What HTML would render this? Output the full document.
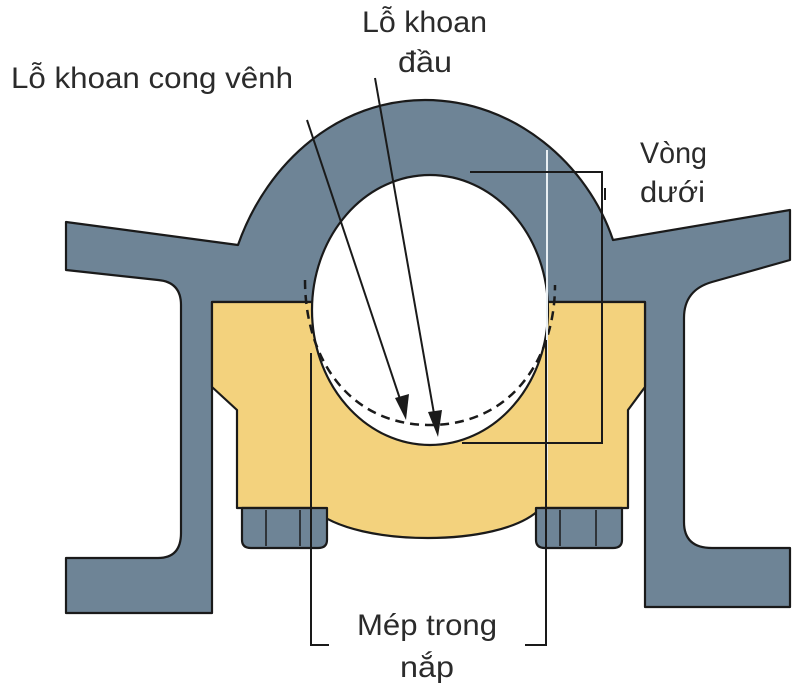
<!DOCTYPE html>
<html><head><meta charset="utf-8"><style>
html,body{margin:0;padding:0;background:#fff;width:800px;height:700px;overflow:hidden}
text{font-family:"Liberation Sans",sans-serif;fill:#2b2b2b}
</style></head><body>
<svg width="800" height="700" viewBox="0 0 800 700" xmlns="http://www.w3.org/2000/svg">
<g stroke="#1a1a1a" stroke-width="2.2" stroke-linejoin="round">
<path fill="#6e8496" d="M66,222 L238,245 C268,160 340,100 425,100 C515,100 588,165 613,240 L790,210 L790,260 L712,282 Q684,290 684,318 L684,522 Q684,548 712,548 L790,548 L790,607 L645,607 L645,302 L212,302 L212,613 L66,613 L66,558 L158,558 Q181,558 181,533 L181,305 Q181,282 158,280 L66,270 Z"/>
<path fill="#f3d27d" d="M212,302 L645,302 L645,387 L628,410 L628,508 L541,508 C520,530 470,538 428,538 C385,538 335,530 312,508 L237,508 L237,410 L212,387 Z"/>
<g fill="#6e8496">
<path d="M242,508 L327,508 L327,540 Q327,548 318,548 L251,548 Q242,548 242,540 Z"/>
<path d="M536,508 L622,508 L622,540 Q622,548 613,548 L545,548 Q536,548 536,540 Z"/>
</g>
<g fill="none" stroke-width="1.5">
<line x1="266" y1="510" x2="266" y2="546"/><line x1="300" y1="510" x2="300" y2="546"/>
<line x1="560" y1="510" x2="560" y2="546"/><line x1="596" y1="510" x2="596" y2="546"/>
</g>
<ellipse cx="430" cy="310" rx="118" ry="135" fill="#fff"/>
</g>
<path d="M305,280 C305,360 350,425 430,425 C510,425 555,360 555,285" fill="none" stroke="#1a1a1a" stroke-width="2.5" stroke-dasharray="9,6"/>
<line x1="547" y1="150" x2="547" y2="480" stroke="#e8eef2" stroke-width="2"/>
<g stroke="#1a1a1a" stroke-width="2" fill="none">
<polyline points="470,172 602,172 602,443 462,443"/>
<line x1="605" y1="188" x2="605" y2="200"/>
<polyline points="311,353 311,645 329,645"/>
<polyline points="546,340 546,645 525,645"/>
<line x1="307" y1="120" x2="403" y2="408"/>
<line x1="375" y1="78" x2="436" y2="425"/>
</g>
<g fill="#1a1a1a">
<polygon points="406,420 395,398 409,394"/>
<polygon points="438,437 428,412 442,410"/>
</g>
<text x="11" y="88" font-size="30" textLength="282" lengthAdjust="spacingAndGlyphs">Lỗ khoan cong vênh</text>
<text x="362" y="32" font-size="30" textLength="125" lengthAdjust="spacingAndGlyphs">Lỗ khoan</text>
<text x="398" y="72" font-size="30" textLength="54" lengthAdjust="spacingAndGlyphs">đầu</text>
<text x="640" y="163" font-size="30" textLength="67" lengthAdjust="spacingAndGlyphs">Vòng</text>
<text x="640" y="202" font-size="30" textLength="65" lengthAdjust="spacingAndGlyphs">dưới</text>
<text x="357" y="635" font-size="30" textLength="140" lengthAdjust="spacingAndGlyphs">Mép trong</text>
<text x="400" y="677" font-size="30" textLength="54" lengthAdjust="spacingAndGlyphs">nắp</text>
</svg>
</body></html>
